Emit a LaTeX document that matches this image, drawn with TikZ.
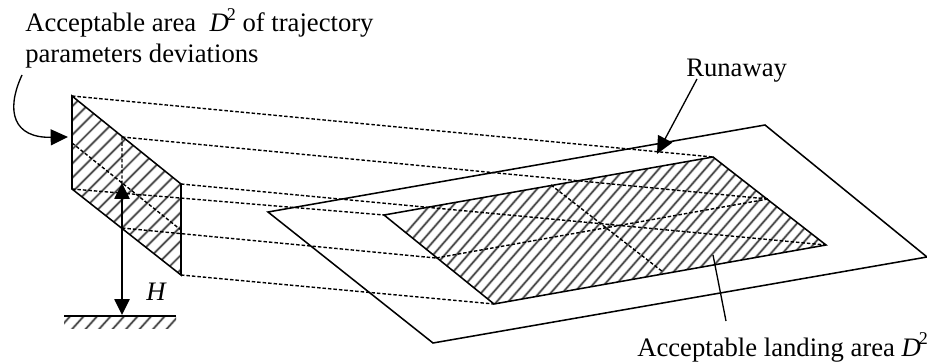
\documentclass[tikz,border=0pt]{standalone}
\usepackage{fontspec}
\setmainfont{Liberation Serif}
\usetikzlibrary{arrows.meta}
\tikzset{
  outline/.style={line width=1.15pt,line join=miter},
  dashline/.style={line width=1.05pt,dash pattern=on 2.6pt off 1.5pt},
  hatchglow/.style={line width=2.1pt,black!22},
  hatchline/.style={line width=1.05pt,black!72},
  lab/.style={inner sep=0pt,font=\fontsize{20}{24}\selectfont,anchor=base west},
  tip/.style={-{Triangle[length=13pt,width=12pt]}},
  leader/.style={line width=1pt}
}
\newcommand{\sqrtwo}{\raisebox{0.42em}{\fontsize{13.5}{15}\selectfont 2}}
\newcommand{\hatchrow}[6]{% count, x0, y0, dx, run, rise
  \foreach \i in {0,...,#1} \draw[hatchglow] (#2+\i*#4,#3) -- ++(#5,-#6);
  \foreach \i in {0,...,#1} \draw[hatchline] (#2+\i*#4,#3) -- ++(#5,-#6);
}
\begin{document}
\begin{tikzpicture}[x=0.75pt,y=-0.75pt]
\useasboundingbox (0,0) rectangle (927,363);
% left area
\coordinate (a1) at (72,96); \coordinate (a2) at (181,184);
\coordinate (a3) at (181,275); \coordinate (a4) at (72,189);
\coordinate (am1) at (122,137); \coordinate (am2) at (122,228);
\coordinate (am3) at (72,143); \coordinate (am4) at (181,230);
% runway
\coordinate (r1) at (268,212); \coordinate (r2) at (765,125);
\coordinate (r3) at (927,257); \coordinate (r4) at (433,343);
% landing area
\coordinate (z1) at (713,157); \coordinate (z2) at (826,245);
\coordinate (z3) at (494,304); \coordinate (z4) at (384,215);
\coordinate (zm1) at (768,199); \coordinate (zm2) at (436,258);
\coordinate (zm3) at (551,185); \coordinate (zm4) at (663,272);
% hatching
\begin{scope}
\clip (a1)--(a2)--(a3)--(a4)--cycle;
\hatchrow{26}{-150}{300}{14.3}{230}{230}
\end{scope}
\begin{scope}
\clip (z1)--(z2)--(z3)--(z4)--cycle;
\hatchrow{50}{330}{320}{11.6}{170}{195}
\end{scope}
% ground
\coordinate (g1) at (64,316); \coordinate (g2) at (176,316);
\begin{scope}
\clip (64,316) rectangle (176,328);
\hatchrow{12}{56}{332}{13.5}{18}{20}
\end{scope}
\draw[outline] (g1) -- (g2);
% outlines
\draw[outline] (r1)--(r2)--(r3)--(r4)--cycle;
\draw[outline] (z1)--(z2)--(z3)--(z4)--cycle;
\draw[outline] (a1)--(a2)--(a3)--(a4)--cycle;
% dashed projection lines
\draw[dashline] (a1)--(z1) (am1)--(zm1) (a2)--(z2) (a4)--(z4) (am2)--(zm2) (a3)--(z3);
\draw[dashline] (am3)--(am4) (am1)--(am2) (zm1)--(zm2) (zm3)--(zm4);
% labels
\node[lab] (t1) at (25,32) {Acceptable area \ \textit{D}\kern-1.5pt\sqrtwo{} of trajectory};
\node[lab] (t2) at (25,63) {parameters deviations};
\node[lab] (t3) at (686,77) {Runaway};
\node[lab] (t4) at (637,356) {Acceptable landing area \textit{D}\kern-1.5pt\sqrtwo};
\node[lab] (h) at (146,300) {\textit{H}};
% arrows
\coordinate (c1) at (22,75); \coordinate (c2) at (68,137);
\draw[leader,tip] (c1) .. controls (5,112) and (14,138) .. (c2);
\coordinate (d1) at (122,183); \coordinate (d2) at (122,315);
\draw[line width=1.15pt,{Triangle[length=12pt,width=11.5pt]}-{Triangle[length=12pt,width=11.5pt]}] (d1) -- (d2);
\coordinate (e1) at (697,79); \coordinate (e2) at (657,154);
\draw[leader,tip] (e1) -- (e2);
\coordinate (f1) at (713,255); \coordinate (f2) at (726,321);
\draw[leader] (f1) -- (f2);
\end{tikzpicture}
\end{document}
